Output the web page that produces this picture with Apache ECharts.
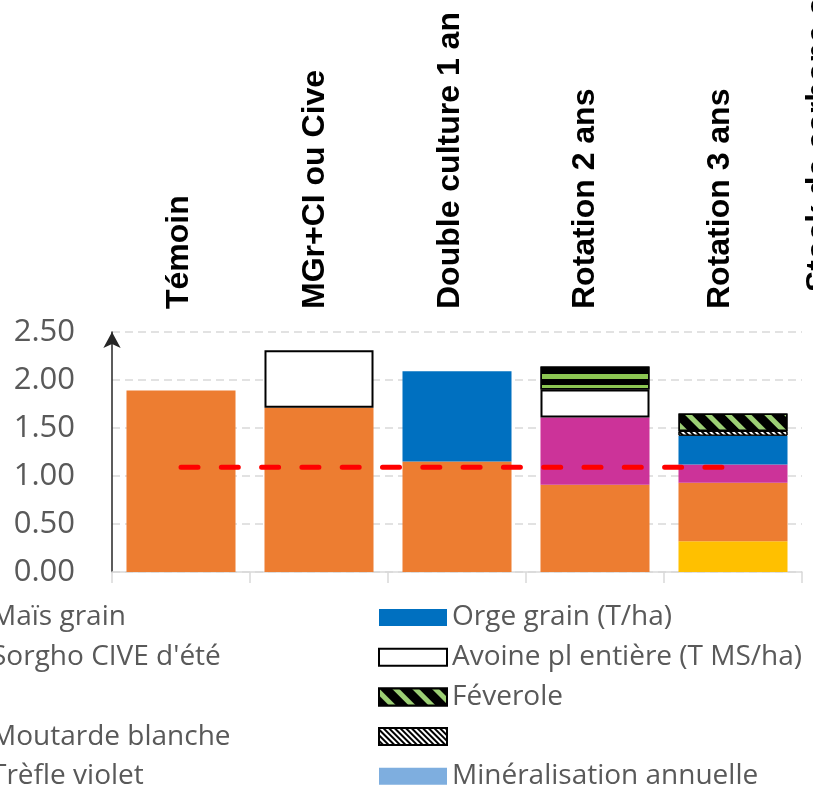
<!DOCTYPE html>
<html>
<head>
<meta charset="utf-8">
<script src="https://cdn.jsdelivr.net/npm/echarts@6/dist/echarts.min.js"></script>
<style>
  html, body { margin: 0; padding: 0; background: #ffffff; }
  #chart { width: 813px; height: 789px; }
</style>
</head>
<body>
<div id="chart"></div>
<script>
// Systèmes de culture comparés
const categories = ['Témoin', 'MGr+CI ou Cive', 'Double culture 1 an', 'Rotation 2 ans', 'Rotation 3 ans'];
const sideLabel = 'Stock de carbone organique';

// Axe des valeurs
const yMin = 0;
const yMax = 2.5;
const yStep = 0.5;

// Productions par système (t/ha), empilées de bas en haut
const serieJaune = [null, null, null, null, 0.32];
const maisGrain = [1.89, 1.71, 1.15, 0.91, 0.61];
const sorgho = [null, null, null, 0.70, 0.19];
const orgeGrain = [null, null, 0.94, null, 0.30];
const avoine = [null, 0.60, null, 0.29, null];
const serieHachuree = [null, null, null, null, 0.05];
const feverole = [null, null, null, 0.24, 0.18];
const moutarde = [null, null, null, null, null];
const trefle = [null, null, null, null, null];
const mineralisation = [null, null, null, null, null];

// Niveau de référence (ligne pointillée rouge)
const niveauRef = [1.09, 1.09, 1.09, 1.09, 1.09];

const FONT = "'Open Sans', sans-serif";

const diagGreen = {
  symbol: 'rect', symbolSize: 1, color: '#9ccf74',
  dashArrayX: [1, 0], dashArrayY: [5, 9], rotation: Math.PI / 4
};
const horizGreen = {
  symbol: 'rect', symbolSize: 1, color: '#8cc652',
  dashArrayX: [1, 0], dashArrayY: [5, 6], rotation: 0
};
const fineHatch = {
  symbol: 'rect', symbolSize: 1, color: '#000000',
  dashArrayX: [1, 0], dashArrayY: [1.5, 1.8], rotation: Math.PI / 4
};

function bar(name, values, itemStyle) {
  return {
    name: name, type: 'bar', stack: 'prod',
    barCategoryGap: '21%',
    xAxisIndex: 0, yAxisIndex: 0,
    itemStyle: itemStyle,
    data: values,
    emphasis: { disabled: true }
  };
}

// Féverole : rayures horizontales sur la rotation 2 ans, obliques ailleurs
const feveroleData = feverole.map((v, i) =>
  v == null ? null : (i === 3 ? { value: v, itemStyle: { decal: horizGreen } } : v));

const series = [
  bar('jaune', serieJaune, { color: '#ffc000' }),
  bar('Maïs grain', maisGrain, { color: '#ed7d31' }),
  bar("Sorgho CIVE d'été", sorgho, { color: '#cc3399' }),
  bar('Orge grain (T/ha)', orgeGrain, { color: '#0070c0' }),
  bar('Avoine pl entière (T MS/ha)', avoine, { color: '#ffffff', borderColor: '#000000', borderWidth: 2 }),
  bar('hachures', serieHachuree, { color: '#ffffff', borderColor: '#000000', borderWidth: 1, decal: fineHatch }),
  bar('Féverole', feveroleData, { color: '#000000', borderColor: '#000000', borderWidth: 1.5, decal: diagGreen }),
  bar('Moutarde blanche', moutarde, { color: '#a5a5a5' }),
  bar('Trèfle violet', trefle, { color: '#7030a0' }),
  bar('Minéralisation annuelle', mineralisation, { color: '#7eaedf' }),
  {
    name: 'référence', type: 'line', xAxisIndex: 0, yAxisIndex: 0,
    data: niveauRef, symbol: 'none', z: 5, silent: true,
    lineStyle: { color: '#ff0000', width: 5, type: [17, 23.3], cap: 'round' }
  }
];

const legendText = {
  'jaune': '\u00a0',
  'hachures': '\u00a0'
};

const legendBase = {
  orient: 'vertical',
  top: 603.5,
  height: 260,
  itemWidth: 68,
  itemHeight: 17,
  itemGap: 11.7,
  icon: 'rect',
  selectedMode: false,
  padding: 0,
  formatter: (n) => (legendText[n] !== undefined ? legendText[n] : n),
  textStyle: { fontFamily: FONT, fontSize: 28, color: '#595959', lineHeight: 28 }
};

const chart = echarts.init(document.getElementById('chart'), null, { renderer: 'canvas' });
chart.setOption({
  backgroundColor: '#ffffff',
  animation: false,
  grid: [
    { left: 112, right: 11, top: 332, bottom: 217 },
    { left: 112, width: 676, top: 332, bottom: 217 }
  ],
  legend: [
    Object.assign({}, legendBase, {
      left: -82, width: 400,
      data: ['Maïs grain', "Sorgho CIVE d'été", 'jaune', 'Moutarde blanche', 'Trèfle violet']
    }),
    Object.assign({}, legendBase, {
      left: 378, width: 440,
      data: ['Orge grain (T/ha)', 'Avoine pl entière (T MS/ha)', 'Féverole', 'hachures', 'Minéralisation annuelle']
    })
  ],
  xAxis: [
    {
      type: 'category', gridIndex: 0, data: categories, position: 'bottom',
      axisLine: { show: true, lineStyle: { color: '#d9d9d9', width: 1.5 } },
      axisTick: { show: true, length: 11, lineStyle: { color: '#d9d9d9', width: 1.5 } },
      axisLabel: { show: false },
      splitLine: { show: false }
    },
    {
      type: 'category', gridIndex: 1, data: categories, position: 'top',
      axisLine: { show: false }, axisTick: { show: false },
      axisLabel: {
        show: true, rotate: 90, margin: 23, interval: 0,
        fontFamily: "'Liberation Sans', Arial, sans-serif", fontWeight: 'bold',
        fontSize: 32, color: '#000000'
      },
      splitLine: { show: false }
    }
  ],
  yAxis: [
    {
      type: 'value', gridIndex: 0, min: yMin, max: yMax, interval: yStep,
      axisLine: {
        show: true, lineStyle: { color: '#262626', width: 1.5 },
        symbol: ['none', 'arrow'], symbolSize: [13, 16], symbolOffset: [0, 0]
      },
      axisTick: { show: false },
      axisLabel: {
        margin: 37, fontFamily: FONT, fontSize: 31, color: '#595959',
        formatter: (v) => v.toFixed(2)
      },
      splitLine: { show: true, lineStyle: { color: '#d9d9d9', width: 1.5, type: [8, 5] } }
    },
    {
      type: 'value', gridIndex: 1, min: yMin, max: yMax, show: false
    }
  ],
  graphic: [
    {
      type: 'text', x: 819, y: 292, rotation: Math.PI / 2, silent: true,
      style: {
        text: sideLabel, fill: '#000000',
        font: "bold 32px 'Liberation Sans', Arial, sans-serif",
        align: 'left', verticalAlign: 'middle'
      }
    }
  ],
  series: series
});
</script>
</body>
</html>
